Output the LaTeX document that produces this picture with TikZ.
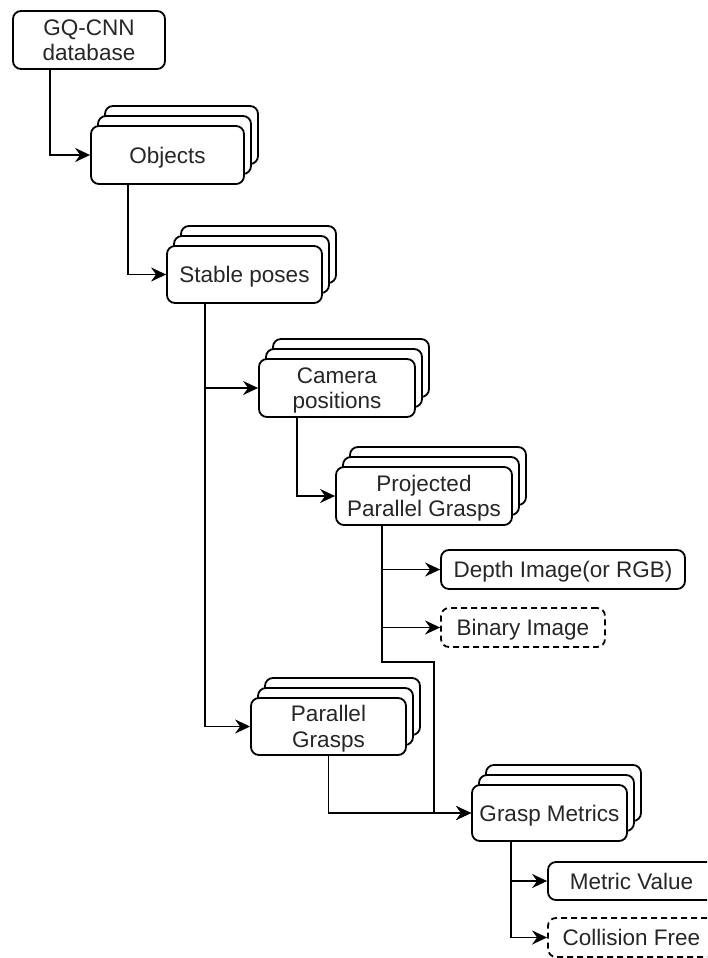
\documentclass[tikz,border=0pt]{standalone}
\usepackage{fontspec}
\setmainfont{Liberation Sans}
\usetikzlibrary{arrows.meta,calc}
\definecolor{ink}{HTML}{262626}

\newsavebox\liftbox
% centred label, set a little low in its box
\newcommand\lift[1]{%
  \sbox\liftbox{\begin{tabular}{@{}c@{}}#1\end{tabular}}%
  \raisebox{-1.5pt}[\ht\liftbox][\dp\liftbox]{\usebox\liftbox}}

\tikzset{
  box/.style={draw=black, fill=white, rounded corners=4pt, line width=0.9pt,
    inner sep=0pt, text=ink, font=\fontsize{11.25}{12.6}\selectfont},
  dbox/.style={box, dash pattern=on 3pt off 2pt},
  arr/.style={-{Stealth[length=7.5pt,width=7pt,inset=2.5pt]}, line width=0.9pt},
}

% a card with two copies stacked behind it (up and to the right)
\newcommand\cardstack[5]{%
  \node[box, minimum width=#3, minimum height=#4, xshift=7pt, yshift=10pt] at #2 {};
  \node[box, minimum width=#3, minimum height=#4, xshift=3.5pt, yshift=5pt] at #2 {};
  \node[box, minimum width=#3, minimum height=#4] (#1) at #2 {\lift{#5}};
}

\begin{document}
\begin{tikzpicture}[x=0.5pt, y=-0.5pt]
  \useasboundingbox (0,0) rectangle (707,958);
  \clip (0,0) rectangle (707,958);

  % source
  \node[box, minimum width=76pt, minimum height=29pt] (gq) at (89,40) {\lift{GQ-CNN\\database}};

  % stacked cards
  \cardstack{obj}{(167.5,155)}{76.5pt}{29pt}{Objects}
  \cardstack{stab}{(244.5,274.5)}{77.5pt}{28.5pt}{Stable poses}
  \cardstack{cam}{(337,388)}{78pt}{29pt}{Camera\\positions}
  \cardstack{proj}{(424,496)}{88pt}{29pt}{Projected\\Parallel Grasps}
  \cardstack{par}{(328.5,726.5)}{77.5pt}{28.5pt}{Parallel\\Grasps}
  \cardstack{gm}{(549.5,813)}{77.5pt}{28pt}{Grasp Metrics}

  % outputs
  \node[box, minimum width=122pt, minimum height=19.5pt] (depth) at (563,569.5) {\lift{Depth Image(or RGB)}};
  \node[dbox, minimum width=82pt, minimum height=19.5pt] (bin) at (523,627.5) {\lift{Binary Image}};
  \node[box, minimum width=83.5pt, minimum height=19pt] (mv) at (631.5,881) {\lift{Metric Value}};
  \node[dbox, minimum width=83.5pt, minimum height=19.5pt] (cf) at (631.5,937.5) {\lift{Collision Free}};

  % connectors
  \draw[arr] ($(gq.south)+(-39,0)$) |- (obj.west);
  \draw[arr] ($(obj.south)+(-39.5,0)$) |- (stab.west);
  \draw[arr] ($(stab.south)+(-39.5,0)$) |- (par.west);
  \draw[arr] ($(stab.south)+(-39.5,0)$) |- (cam.west);
  \draw[arr] ($(cam.south)+(-40,0)$) |- (proj.west);
  \draw[arr] ($(proj.south)+(-42,0)$) |- (depth.west);
  \draw[arr] ($(proj.south)+(-42,0)$) |- (bin.west);
  \coordinate (jog) at (434,662);
  \draw[arr] ($(proj.south)+(-42,0)$) |- (jog) |- (gm.west);
  \draw[arr] (par.south) |- (gm.west);
  \draw[arr] ($(gm.south)+(-38.5,0)$) |- (mv.west);
  \draw[arr] ($(gm.south)+(-38.5,0)$) |- (cf.west);
\end{tikzpicture}
\end{document}
